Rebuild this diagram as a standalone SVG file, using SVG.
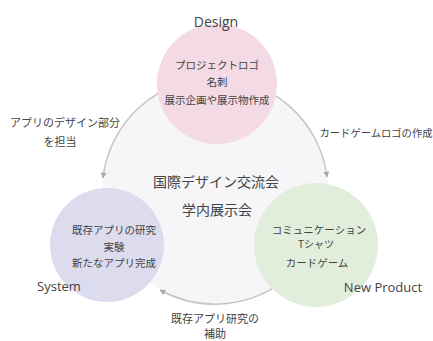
<svg xmlns="http://www.w3.org/2000/svg" width="433" height="341" viewBox="0 0 433 341">
<style>
.jp{font-family:"Noto Sans CJK JP","Noto Sans",sans-serif;fill:#444;text-anchor:middle}
.en{font-family:"Open Sans","Noto Sans",sans-serif;fill:#444;text-anchor:middle}
.arc{fill:none;stroke:#c4c4c4;stroke-width:1.5}
</style>
<defs>
<marker id="ah" viewBox="0 0 10 10" refX="9" refY="5" markerWidth="6" markerHeight="6" orient="auto" markerUnits="userSpaceOnUse">
<path d="M0 0 L10 5 L0 10 Z" fill="#aaa"/>
</marker>
</defs>
<rect width="433" height="341" fill="#fff"/>
<circle cx="215" cy="191" r="113" fill="#f6f6f8"/>
<g id="connectors">
<path class="arc" d="M215 78 A113 113 0 0 0 103 178" marker-end="url(#ah)"/>
<path class="arc" d="M215 78 A113 113 0 0 1 327 177" marker-end="url(#ah)"/>
<path class="arc" d="M290 275.5 A113 113 0 0 1 160 290" marker-end="url(#ah)"/>
</g>
<g id="design">
<circle cx="217" cy="84" r="60" fill="#f3dae4"/>
<text class="en" x="216" y="27" font-size="14">Design</text>
<text class="jp" x="217" y="69" font-size="10.5">プロジェクトロゴ</text>
<text class="jp" x="217" y="86" font-size="10.5">名刺</text>
<text class="jp" x="217" y="104" font-size="10.5">展示企画や展示物作成</text>
</g>
<g id="system">
<circle cx="107" cy="245" r="57" fill="#dcdcee"/>
<text class="jp" x="114" y="234" font-size="10.5">既存アプリの研究</text>
<text class="jp" x="114" y="251" font-size="10.5">実験</text>
<text class="jp" x="114" y="267" font-size="10.5">新たなアプリ完成</text>
<text class="en" x="59" y="291" font-size="13">System</text>
</g>
<g id="product">
<circle cx="316" cy="245" r="62" fill="#e2eedc"/>
<text class="jp" x="319" y="234" font-size="10.5">コミュニケーション</text>
<text class="jp" x="316" y="248" font-size="10">Tシャツ</text>
<text class="jp" x="317" y="267" font-size="10.5">カードゲーム</text>
<text class="en" x="383" y="292" font-size="13">New Product</text>
</g>
<g id="center">
<text class="jp" x="216" y="187" font-size="14">国際デザイン交流会</text>
<text class="jp" x="217" y="215" font-size="14">学内展示会</text>
</g>
<g id="labels">
<text class="jp" x="65" y="127" font-size="11">アプリのデザイン部分</text>
<text class="jp" x="60" y="146" font-size="11">を担当</text>
<text class="jp" x="376" y="137" font-size="10.3">カードゲームロゴの作成</text>
<text class="jp" x="215" y="323" font-size="11">既存アプリ研究の</text>
<text class="jp" x="215" y="338" font-size="11">補助</text>
</g>
</svg>
